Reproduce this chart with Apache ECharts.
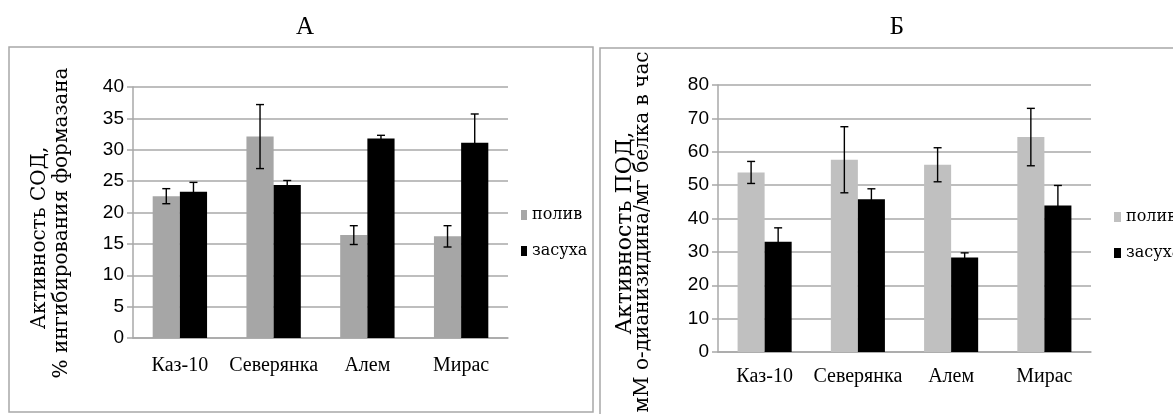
<!DOCTYPE html>
<html>
<head>
<meta charset="utf-8">
<script src="https://cdn.jsdelivr.net/npm/echarts@6/dist/echarts.min.js"></script>
<style>
html,body{margin:0;padding:0;background:#fff;}
#c{width:1173px;height:414px;}
</style>
</head>
<body>
<div id="c"></div>
<script>
// ---- data ----
const categories = ['Каз-10', 'Северянка', 'Алем', 'Мирас'];
const seriesNames = ['полив', 'засуха'];

// Chart A: SOD activity
const polivA = [22.6, 32.1, 16.4, 16.2];
const polivAErr = [1.2, 5.1, 1.5, 1.7];
const zasuhaA = [23.3, 24.4, 31.8, 31.1];
const zasuhaAErr = [1.5, 0.7, 0.5, 4.6];

// Chart B: POD activity
const polivB = [53.8, 57.6, 56.1, 64.4];
const polivBErr = [3.3, 9.9, 5.1, 8.6];
const zasuhaB = [33.0, 45.8, 28.3, 43.9];
const zasuhaBErr = [4.2, 3.1, 1.4, 6.0];

const yTicksA = {min: 0, max: 40, interval: 5};
const yTicksB = {min: 0, max: 80, interval: 10};

// ---- styling ----
const GAP = 0.42;
const serif = 'Liberation Serif';
const dserif = 'DejaVu Serif';
const sans = 'Liberation Sans';
const gridGray = '#a8a8a8';

function errData(vals, errs) {
  return vals.map((v, i) => [i, v - errs[i], v + errs[i]]);
}
function errSeries(vals, errs, idx, side) {
  return {
    type: 'custom',
    xAxisIndex: idx, yAxisIndex: idx,
    z: 10,
    silent: true,
    encode: {x: 0, y: [1, 2]},
    data: errData(vals, errs),
    renderItem: function (params, api) {
      const x = api.value(0);
      const lo = api.coord([x, api.value(1)]);
      const hi = api.coord([x, api.value(2)]);
      const band = api.size([1, 0])[0];
      const bw = band * (1 - GAP) / 2;
      const cx = lo[0] + side * bw / 2;
      const cap = 4;
      const st = {stroke: '#000', lineWidth: 1.4};
      return {
        type: 'group',
        children: [
          {type: 'line', shape: {x1: cx, y1: lo[1], x2: cx, y2: hi[1]}, style: st},
          {type: 'line', shape: {x1: cx - cap, y1: lo[1], x2: cx + cap, y2: lo[1]}, style: st},
          {type: 'line', shape: {x1: cx - cap, y1: hi[1], x2: cx + cap, y2: hi[1]}, style: st}
        ]
      };
    }
  };
}

function xAxisDef(idx, margin) {
  return {
    type: 'category', gridIndex: idx, data: categories,
    axisLine: {lineStyle: {color: gridGray, width: 1.5}},
    axisTick: {show: false},
    axisLabel: {color: '#000', fontFamily: serif, fontSize: 20, margin: margin, interval: 0}
  };
}
function yAxisDef(idx, t) {
  return {
    type: 'value', gridIndex: idx, min: t.min, max: t.max, interval: t.interval,
    axisLine: {show: true, lineStyle: {color: gridGray, width: 1.5}},
    axisTick: {show: true, length: 6, lineStyle: {color: gridGray, width: 1.5}},
    splitLine: {lineStyle: {color: gridGray, width: 1.5}},
    axisLabel: {color: '#000', fontFamily: sans, fontSize: 19, margin: 9}
  };
}

function vText(txt, x, y, size) {
  return {type: 'text', x: x, y: y, rotation: Math.PI / 2, silent: true,
    style: {text: txt, font: size + "px 'DejaVu Serif', serif", fill: '#000',
      textAlign: 'center', textVerticalAlign: 'middle', align: 'center', verticalAlign: 'middle'}};
}

const chart = echarts.init(document.getElementById('c'), null, {renderer: 'canvas'});
const option = {
  backgroundColor: '#fff',
  animation: false,
  grid: [
    {left: 133, top: 87, width: 375, height: 251},
    {left: 718, top: 85, width: 373, height: 267}
  ],
  legend: [
    {
      orient: 'vertical', left: 516, top: 202, itemWidth: 6, itemHeight: 10, itemGap: 20,
      icon: 'rect',
      textStyle: {fontFamily: dserif, fontSize: 16, color: '#000'},
      data: [{name: 'полив', itemStyle: {color: '#a6a6a6'}}, {name: 'засуха', itemStyle: {color: '#000'}}],
      selectedMode: false
    },
    {
      orient: 'vertical', left: 1109, top: 204, itemWidth: 7, itemHeight: 10, itemGap: 20,
      icon: 'rect',
      textStyle: {fontFamily: dserif, fontSize: 16, color: '#000'},
      data: [{name: 'полив ', itemStyle: {color: '#c0c0c0'}}, {name: 'засуха ', itemStyle: {color: '#000'}}],
      selectedMode: false
    }
  ],
  xAxis: [xAxisDef(0, 18), xAxisDef(1, 15)],
  yAxis: [yAxisDef(0, yTicksA), yAxisDef(1, yTicksB)],
  series: [
    {name: 'полив', type: 'bar', xAxisIndex: 0, yAxisIndex: 0, data: polivA, barGap: '0%', barCategoryGap: (GAP * 100) + '%', itemStyle: {color: '#a6a6a6'}},
    {name: 'засуха', type: 'bar', xAxisIndex: 0, yAxisIndex: 0, data: zasuhaA, barGap: '0%', barCategoryGap: (GAP * 100) + '%', itemStyle: {color: '#000'}},
    {name: 'полив ', type: 'bar', xAxisIndex: 1, yAxisIndex: 1, data: polivB, barGap: '0%', barCategoryGap: (GAP * 100) + '%', itemStyle: {color: '#c0c0c0'}},
    {name: 'засуха ', type: 'bar', xAxisIndex: 1, yAxisIndex: 1, data: zasuhaB, barGap: '0%', barCategoryGap: (GAP * 100) + '%', itemStyle: {color: '#000'}},
    errSeries(polivA, polivAErr, 0, -1),
    errSeries(zasuhaA, zasuhaAErr, 0, 1),
    errSeries(polivB, polivBErr, 1, -1),
    errSeries(zasuhaB, zasuhaBErr, 1, 1)
  ],
  graphic: [
    {type: 'rect', shape: {x: 9, y: 47, width: 584, height: 365}, style: {fill: 'none', stroke: '#a8a8a8', lineWidth: 1.5}, silent: true},
    {type: 'rect', shape: {x: 600, y: 48, width: 600, height: 400}, style: {fill: 'none', stroke: '#a8a8a8', lineWidth: 1.5}, silent: true},
    {type: 'text', x: 305, y: 27, silent: true,
      style: {text: 'А', font: "25px 'Liberation Serif', serif", fill: '#000', align: 'center', verticalAlign: 'middle', textAlign: 'center', textVerticalAlign: 'middle'}},
    {type: 'text', x: 897, y: 27, silent: true,
      style: {text: 'Б', font: "25px 'Liberation Serif', serif", fill: '#000', align: 'center', verticalAlign: 'middle', textAlign: 'center', textVerticalAlign: 'middle'}},
    vText('Активность СОД,', 40, 238, 20),
    vText('% ингибирования формазана', 62, 223, 20),
    vText('Активность ПОД,', 625, 233, 22),
    vText('мМ о-дианизидина/мг белка в час', 643, 232, 20)
  ]
};
chart.setOption(option);
</script>
</body>
</html>
